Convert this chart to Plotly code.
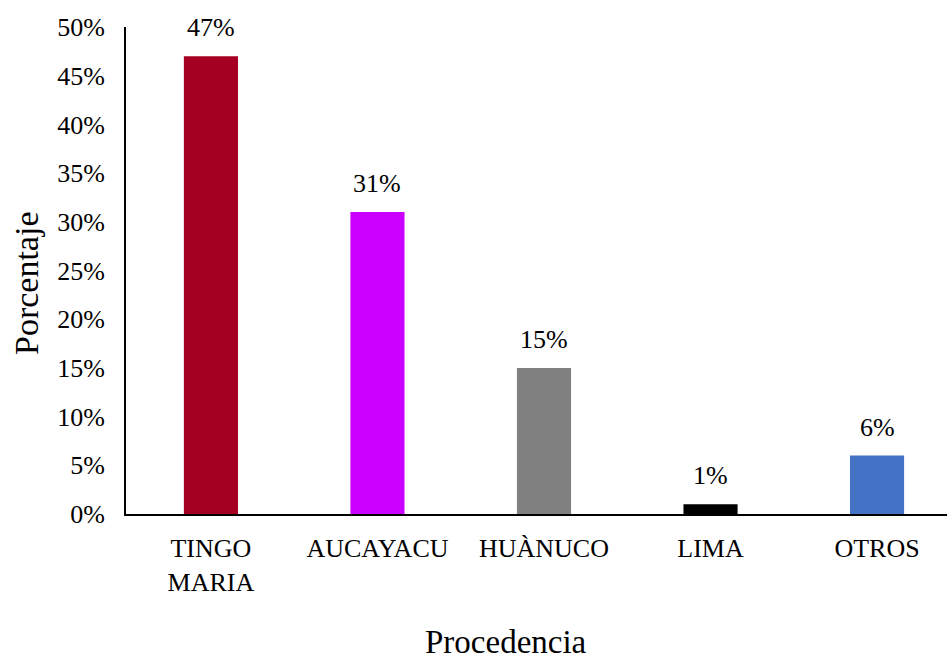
import plotly.graph_objects as go

# Procedencia de los encuestados (porcentaje)
categorias = ["TINGO<br>MARIA", "AUCAYACU", "HUÀNUCO", "LIMA", "OTROS"]
porcentajes = [0.47, 0.31, 0.15, 0.01, 0.06]
etiquetas = ["47%", "31%", "15%", "1%", "6%"]
colores = ["#A50021", "#CC00FF", "#808080", "#000000", "#4472C4"]
ticks_y = [0, 0.05, 0.10, 0.15, 0.20, 0.25, 0.30, 0.35, 0.40, 0.45, 0.50]
ticks_y_texto = ["0%", "5%", "10%", "15%", "20%", "25%", "30%", "35%", "40%", "45%", "50%"]

FUENTE = "Liberation Serif"

fig = go.Figure()
fig.add_trace(go.Bar(
    x=list(range(len(categorias))),
    y=porcentajes,
    marker=dict(color=colores, line=dict(width=0)),
    width=0.325,
    hoverinfo="skip",
))

# Etiquetas de valor sobre cada barra
for i, (v, t) in enumerate(zip(porcentajes, etiquetas)):
    fig.add_annotation(
        x=i, y=v, text=t, showarrow=False,
        yanchor="bottom", yshift=12,
        font=dict(family=FUENTE, size=26, color="#000000"),
    )

# Títulos de los ejes
fig.add_annotation(
    xref="paper", yref="paper", x=-0.122, y=0.474,
    xanchor="center", yanchor="middle",
    text="Porcentaje", textangle=-90, showarrow=False,
    font=dict(family=FUENTE, size=34, color="#000000"),
)
fig.add_annotation(
    xref="paper", yref="paper", x=0.463, y=-0.262,
    xanchor="center", yanchor="middle",
    text="Procedencia", showarrow=False,
    font=dict(family=FUENTE, size=33, color="#000000"),
)

fig.update_layout(
    width=947, height=662,
    margin=dict(l=126, r=0, t=27, b=148),
    paper_bgcolor="white", plot_bgcolor="white",
    showlegend=False,
    font=dict(family=FUENTE, size=26, color="#000000"),
    xaxis=dict(
        tickmode="array",
        tickvals=list(range(len(categorias))),
        ticktext=categorias,
        range=[-0.51, 4.42],
        showline=True, linecolor="#000000", linewidth=2,
        showgrid=False, zeroline=False, ticks="",
        ticklabelstandoff=10,
        tickfont=dict(family=FUENTE, size=26, color="#000000"),
    ),
    yaxis=dict(
        tickmode="array",
        tickvals=ticks_y,
        ticktext=ticks_y_texto,
        range=[0, 0.5],
        showline=True, linecolor="#000000", linewidth=2,
        showgrid=False, zeroline=False, ticks="",
        ticklabelstandoff=14,
        tickfont=dict(family=FUENTE, size=26, color="#000000"),
    ),
)

fig.write_html("out.html")
